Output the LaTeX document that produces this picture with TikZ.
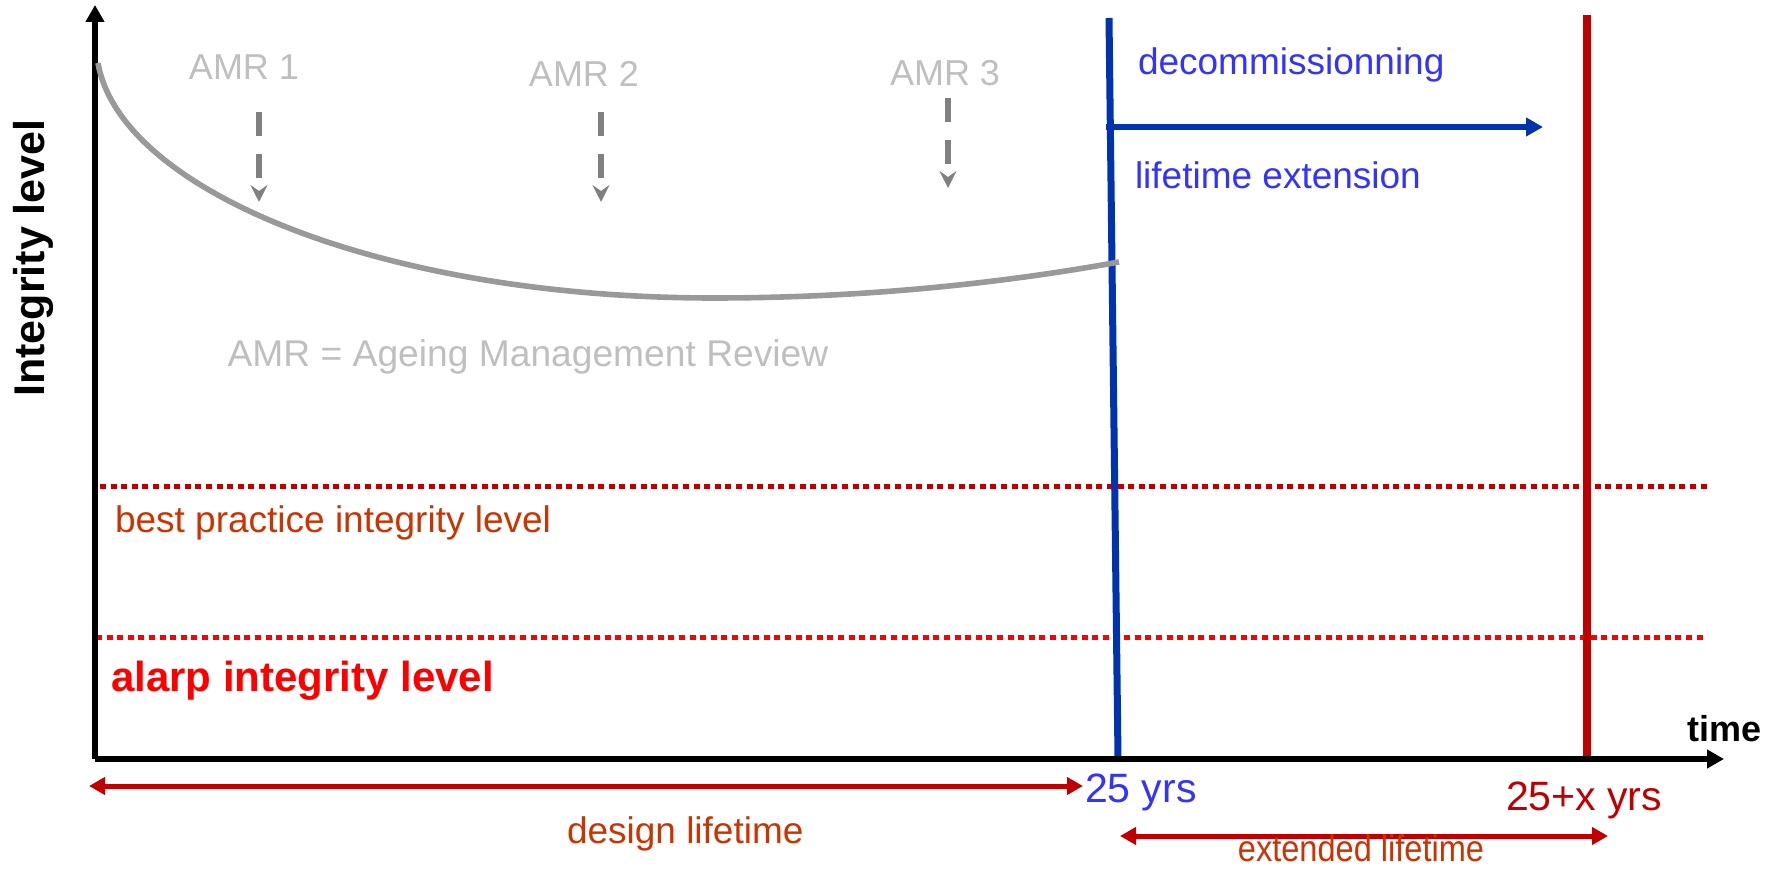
\documentclass[tikz,border=0pt]{standalone}
\usepackage{fontspec}
\setmainfont{Liberation Sans}
\usetikzlibrary{arrows.meta}
\definecolor{amrgray}{RGB}{191,191,191}
\definecolor{arrowgray}{RGB}{128,128,128}
\definecolor{curvegray}{RGB}{153,153,153}
\definecolor{darkblue}{RGB}{0,51,176}
\definecolor{textblue}{RGB}{51,51,255}
\definecolor{darkred}{RGB}{192,0,0}
\definecolor{orangered}{RGB}{204,51,0}
\definecolor{brightred}{RGB}{255,0,0}
\begin{document}
\begin{tikzpicture}[x=0.5pt,y=-0.5pt,
  lbl/.style={inner sep=0pt,outer sep=0pt},
  amrlbl/.style={lbl,text=amrgray,font=\fontsize{18}{22}\selectfont,anchor=base},
  amrarrow/.style={draw=arrowgray,line width=3pt,dash pattern=on 12pt off 9pt,
     -{Stealth[length=8.5pt,width=8.5pt,inset=3pt]}},
  axisline/.style={draw=black,line width=3pt,-{Triangle[length=8.5pt,width=9pt]}},
  levelline/.style={line width=2.5pt,dash pattern=on 3pt off 2.3pt},
  spanarrow/.style={draw=darkred,line width=2.5pt,{Triangle[length=8pt,width=8.5pt]}-{Triangle[length=8pt,width=8.5pt]}},
  bluetext/.style={lbl,text=textblue,font=\fontsize{18.5}{22}\selectfont,anchor=base west},
  redtext/.style={lbl,text=orangered,font=\fontsize{18.5}{22}\selectfont}
]
\useasboundingbox (0,0) rectangle (1777,870);

% coordinates
\coordinate (O) at (95,759);
\coordinate (ytop) at (95,5);
\coordinate (xend) at (1724,759);

% level lines
\coordinate (bp1) at (100,487); \coordinate (bp2) at (1711,487);
\coordinate (al1) at (96,638);  \coordinate (al2) at (1705,638);
\draw[levelline,darkred] (bp1) -- (bp2);
\draw[levelline,brightred] (al1) -- (al2);

% vertical lines
\coordinate (bt) at (1109,18); \coordinate (bb) at (1118,758);
\draw[darkblue,line width=3.5pt] (bt) -- (bb);
\coordinate (rt) at (1587,15); \coordinate (rb) at (1587,759);
\draw[darkred,line width=3.8pt] (rt) -- (rb);

% blue arrow
\coordinate (ba1) at (1106,127); \coordinate (ba2) at (1543,127);
\draw[darkblue,line width=3pt,-{Triangle[length=8.5pt,width=9pt]}] (ba1) -- (ba2);

% axes
\draw[axisline] (O) -- (ytop);
\draw[axisline] (O) -- (xend);

% degradation curve
\coordinate (c0) at (98,63);
\coordinate (cmin) at (714,298);
\coordinate (cend) at (1119,262);
\draw[curvegray,line width=2.8pt] (c0) .. controls (120,190) and (380,298) .. (cmin)
  .. controls (880,298) and (1020,280) .. (cend);

% AMR labels and arrows
\node[amrlbl] (amr1) at (244,80) {AMR 1};
\node[amrlbl] (amr2) at (584,87) {AMR 2};
\node[amrlbl] (amr3) at (945,86) {AMR 3};
\coordinate (a1s) at (259,112); \coordinate (a1e) at (259,202);
\coordinate (a2s) at (601,112); \coordinate (a2e) at (601,202);
\coordinate (a3s) at (948,98);  \coordinate (a3e) at (948,188);
\draw[amrarrow] (a1s) -- (a1e);
\draw[amrarrow] (a2s) -- (a2e);
\draw[amrarrow] (a3s) -- (a3e);
\node[amrlbl,font=\fontsize{18.6}{22}\selectfont] (amrdef) at (528,367) {AMR = Ageing Management Review};

% axis labels
\node[lbl,font=\bfseries\fontsize{21.5}{24}\selectfont,rotate=90,anchor=base] (ylab) at (44,258) {Integrity level};
\node[lbl,font=\bfseries\fontsize{18}{22}\selectfont,anchor=base west] (xlab) at (1687,741) {time};

% blue texts
\node[bluetext] (decom) at (1138,75) {decommissionning};
\node[bluetext] (lext) at (1135,189) {lifetime extension};
\node[lbl,text=textblue,font=\fontsize{20.5}{24}\selectfont,anchor=base west] (y25) at (1085,802) {25 yrs};
\node[lbl,text=darkred,font=\fontsize{20.5}{24}\selectfont,anchor=base west] (y25x) at (1506,810) {25+x yrs};

% level texts
\node[redtext,anchor=base west] (bptext) at (115,533) {best practice integrity level};
\node[lbl,text=brightred,font=\bfseries\fontsize{21}{24}\selectfont,anchor=base west] (altext) at (111,692) {alarp integrity level};

% span arrows
\coordinate (d1) at (89,786); \coordinate (d2) at (1083,786);
\draw[spanarrow] (d1) -- (d2);
\node[redtext,anchor=base west] (dlt) at (567,843) {design lifetime};
\coordinate (e1) at (1120,836); \coordinate (e2) at (1608,836);
\draw[spanarrow] (e1) -- (e2);
\node[redtext,anchor=base] (elt) at (1361,861) {\scalebox{0.88}[1]{extended lifetime}};
\end{tikzpicture}
\end{document}
